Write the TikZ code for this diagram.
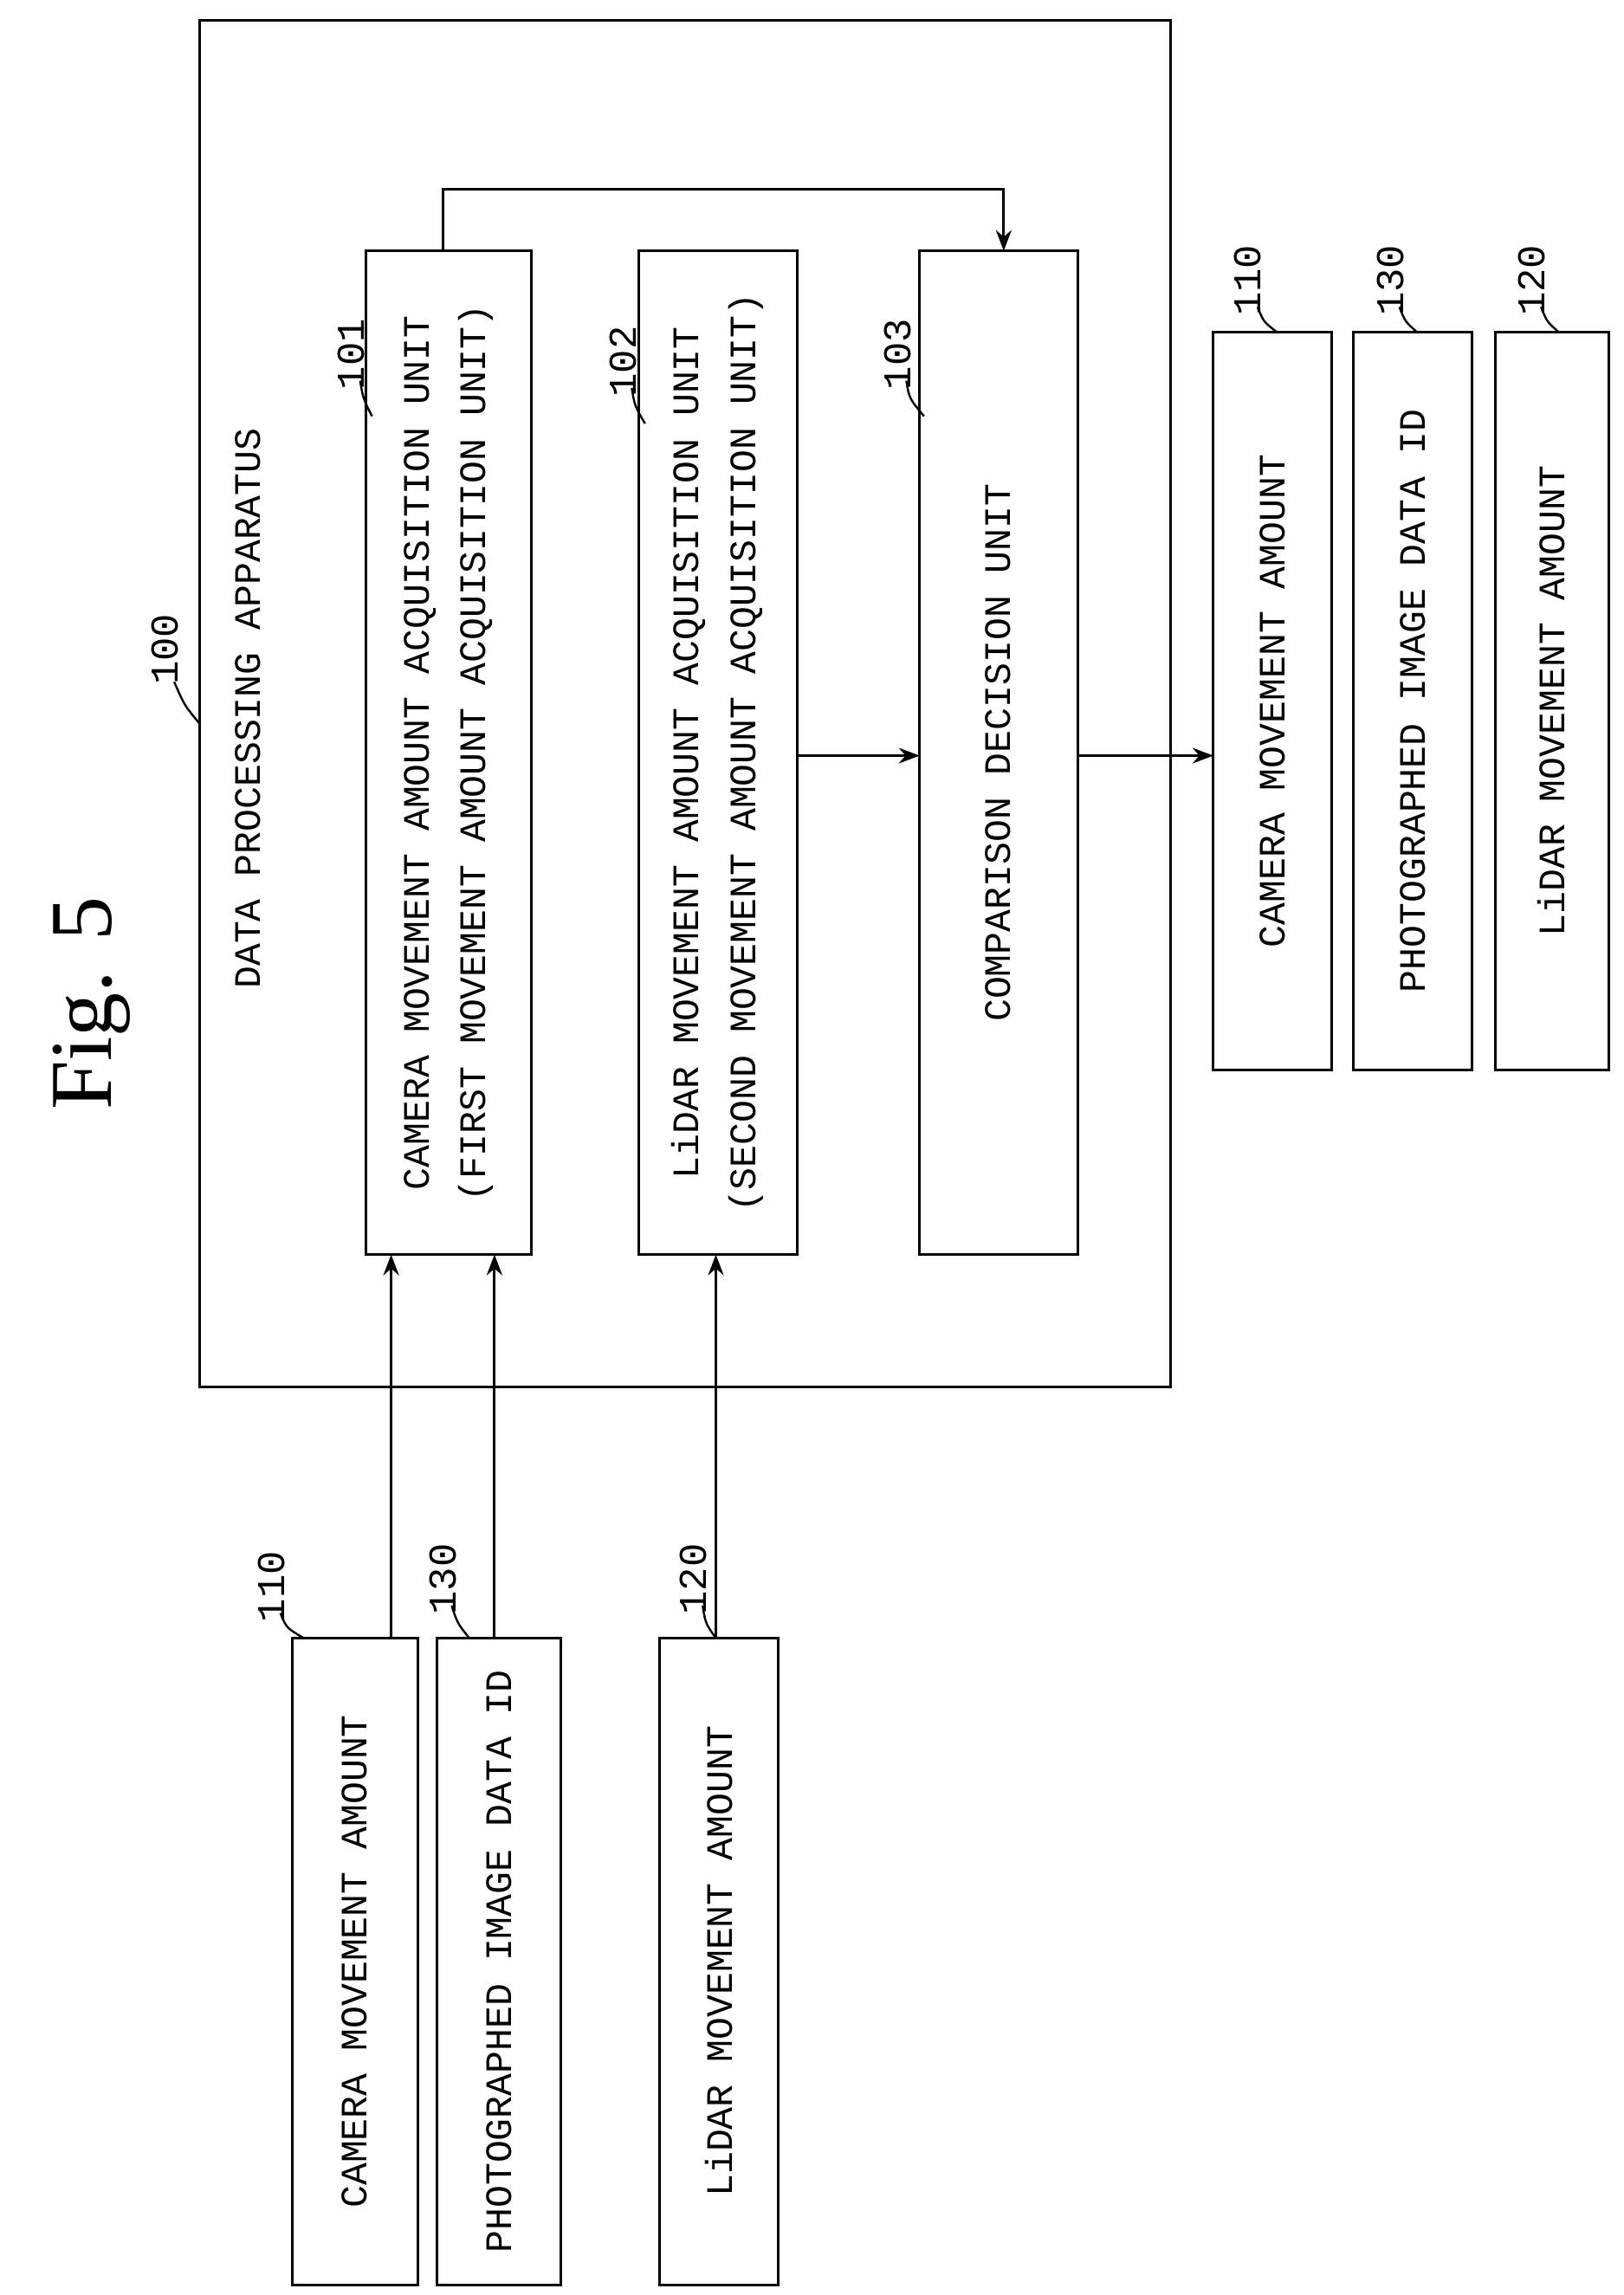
\documentclass[tikz,border=0pt]{standalone}
\usepackage{fontspec}
\setmainfont{Liberation Serif}
\newfontfamily\monof{Liberation Mono}
\usetikzlibrary{arrows.meta}
\begin{document}
\begin{tikzpicture}[x=0.01cm,y=-0.01cm,
  box/.style={draw,line width=0.5pt},
  txt/.style={rotate=90,font=\monof\fontsize{7.2}{11}\selectfont,align=center},
  lab/.style={font=\monof\fontsize{7.6}{9}\selectfont,rotate=90},
  arr/.style={-{Stealth[length=4pt,width=3pt]},line width=0.5pt},
  ld/.style={line width=0.4pt}]
\useasboundingbox (0,0) rectangle (1100,1555);
\node[rotate=90,font=\fontsize{17}{20}\selectfont] (fig) at (62,680) {Fig. 5};
\draw[box] (135,14) rectangle (793,940);
\node[txt] (dpa) at (168,480) {DATA PROCESSING APPARATUS};
\node[lab] (l100) at (112,440) {100};
\draw[ld] (118,462) .. controls (125,478) .. (135,490);
% inner boxes
\draw[box] (248,170) rectangle (360,850);
\coordinate (t101) at (300,170); \coordinate (bot101a) at (265,850); \coordinate (bot101b) at (335,850);
\node[txt] (x101) at (304,510) {CAMERA MOVEMENT AMOUNT ACQUISITION UNIT\\(FIRST MOVEMENT AMOUNT ACQUISITION UNIT)};
\draw[box] (433,170) rectangle (540,850);
\node[txt] (x102) at (486,510) {LiDAR MOVEMENT AMOUNT ACQUISITION UNIT\\(SECOND MOVEMENT AMOUNT ACQUISITION UNIT)};
\draw[box] (623,170) rectangle (730,850);
\node[txt] (x103) at (676,510) {COMPARISON DECISION UNIT};
\node[lab] (l101) at (238,240) {101}; \draw[ld] (244,258) .. controls (246,270) .. (252,282);
\node[lab] (l102) at (422,245) {102}; \draw[ld] (428,263) .. controls (430,275) .. (437,287);
\node[lab] (l103) at (608,240) {103}; \draw[ld] (614,258) .. controls (616,270) .. (626,282);
\coordinate (r102) at (540,512); \coordinate (l103c) at (623,512);
\coordinate (r103) at (730,512); \coordinate (t103) at (680,170);
\draw[arr] (t101) -- (300,128) -| (t103);
\draw[arr] (r102) -- (l103c);
% right boxes
\draw[box] (822,225) rectangle (902,725);
\node[txt] (o110) at (862,475) {CAMERA MOVEMENT AMOUNT};
\draw[box] (917,225) rectangle (997,725);
\node[txt] (o130) at (957,475) {PHOTOGRAPHED IMAGE DATA ID};
\draw[box] (1013,225) rectangle (1090,725);
\node[txt] (o120) at (1051,475) {LiDAR MOVEMENT AMOUNT};
\coordinate (lo110) at (822,512);
\draw[arr] (r103) -- (lo110);
\node[lab] (lo110l) at (845,190) {110}; \draw[ld] (852,208) .. controls (856,218) .. (865,225);
\node[lab] (lo130l) at (942,190) {130}; \draw[ld] (948,208) .. controls (952,218) .. (960,225);
\node[lab] (lo120l) at (1038,190) {120}; \draw[ld] (1044,208) .. controls (1048,218) .. (1056,225);
% left boxes
\draw[box] (198,1110) rectangle (283,1548);
\node[txt] (i110) at (240,1329) {CAMERA MOVEMENT AMOUNT};
\draw[box] (296,1110) rectangle (380,1548);
\node[txt] (i130) at (338,1329) {PHOTOGRAPHED IMAGE DATA ID};
\draw[box] (447,1110) rectangle (527,1548);
\node[txt] (i120) at (487,1329) {LiDAR MOVEMENT AMOUNT};
\node[lab] (li110l) at (184,1075) {110}; \draw[ld] (190,1093) .. controls (194,1103) .. (206,1110);
\node[lab] (li130l) at (300,1070) {130}; \draw[ld] (306,1088) .. controls (310,1100) .. (318,1110);
\node[lab] (li120l) at (470,1070) {120}; \draw[ld] (476,1088) .. controls (478,1100) .. (485,1110);
\draw[arr] (265,1110) -- (bot101a);
\draw[arr] (335,1110) -- (bot101b);
\draw[arr] (485,1110) -- (485,850);
\end{tikzpicture}
\end{document}
